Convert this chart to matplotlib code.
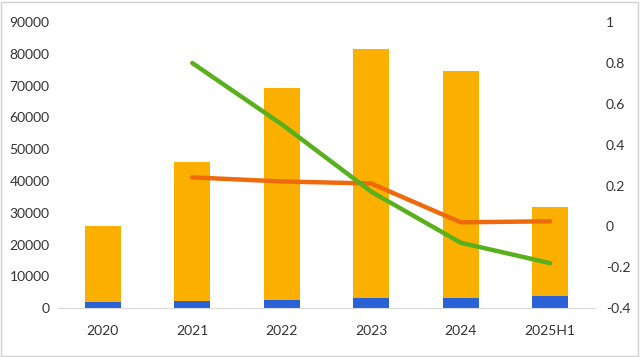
import matplotlib.pyplot as plt
from matplotlib.patches import Rectangle
import numpy as np

plt.rcParams['font.family'] = ['Lato', 'DejaVu Sans']

# data
years = ["2020", "2021", "2022", "2023", "2024", "2025H1"]
blue_vals = [1800, 2200, 2700, 3300, 3300, 3700]
total_vals = [25800, 46000, 69200, 81500, 74600, 31800]
orange_vals = [t - b for t, b in zip(total_vals, blue_vals)]

line_years = ["2021", "2022", "2023", "2024", "2025H1"]
green_line = [0.80, 0.50, 0.17, -0.08, -0.18]
orange_line = [0.24, 0.22, 0.21, 0.02, 0.025]

fig = plt.figure(figsize=(6.4, 3.57), dpi=100)
ax = fig.add_axes([0.0906, 0.137, 0.839, 0.801])

x = np.arange(len(years))
ax.bar(x, blue_vals, width=0.4, color='#2A62D6')
ax.bar(x, orange_vals, width=0.4, bottom=blue_vals, color='#FBB000')

ax.set_xlim(-0.5, len(years) - 0.5)
ax.set_ylim(0, 90000)
ax.set_yticks(range(0, 90001, 10000))
ax.set_xticks(x)
ax.set_xticklabels(years)
ax.tick_params(length=0, labelsize=10, colors='#333333')
ax.tick_params(axis='x', pad=12)
ax.tick_params(axis='y', pad=6)
for s in ['top', 'left', 'right']:
    ax.spines[s].set_visible(False)
ax.spines['bottom'].set_color('#D9D9D9')

ax2 = ax.twinx()
lx = [years.index(y) for y in line_years]
ax2.plot(lx, orange_line, color='#EE6A0C', lw=3.2, solid_capstyle='round')
ax2.plot(lx, green_line, color='#58B01C', lw=3.2, solid_capstyle='round')
ax2.set_ylim(-0.4, 1.0)
ax2.set_yticks([-0.4, -0.2, 0, 0.2, 0.4, 0.6, 0.8, 1])
ax2.set_yticklabels(['-0.4', '-0.2', '0', '0.2', '0.4', '0.6', '0.8', '1'])
ax2.tick_params(length=0, labelsize=10, colors='#333333', pad=8)
for s in ['top', 'left', 'right', 'bottom']:
    ax2.spines[s].set_visible(False)

fig.patches.append(Rectangle((0.002, 0.003), 0.995, 0.992, transform=fig.transFigure,
                             fill=False, edgecolor='#D0D0D0', lw=1))

fig.savefig('out.png', dpi=100)
